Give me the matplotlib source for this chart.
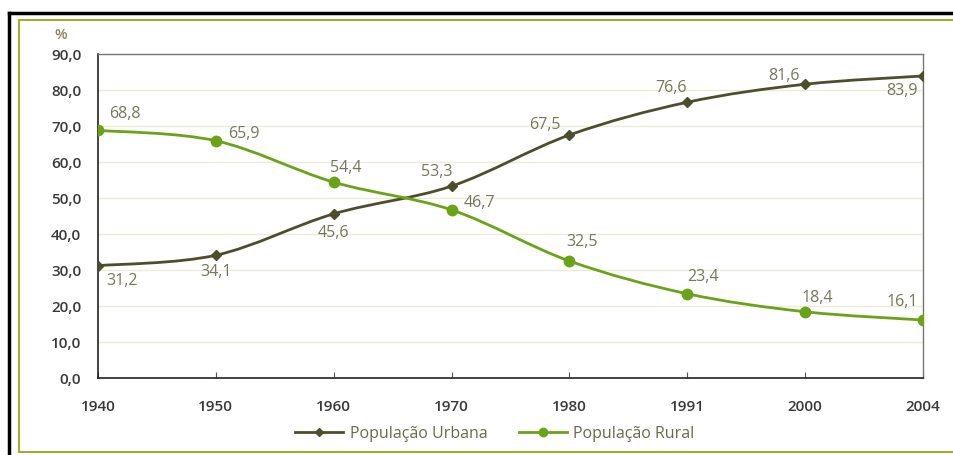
import numpy as np
import matplotlib
matplotlib.use('Agg')
from matplotlib import pyplot as plt
from matplotlib.path import Path
from matplotlib.patches import PathPatch
from matplotlib.lines import Line2D

years = ['1940', '1950', '1960', '1970', '1980', '1991', '2000', '2004']
urbana = [31.2, 34.1, 45.6, 53.3, 67.5, 76.6, 81.6, 83.9]
rural = [68.8, 65.9, 54.4, 46.7, 32.5, 23.4, 18.4, 16.1]

# label offsets in points (placement only)
off_urb = [(17, -11), (0, -12), (0, -14), (-11, 10), (-18, 7), (-12, 10), (-15, 6), (-15, -11)]
off_rur = [(19, 12), (20, 5), (9, 10), (20, 5), (9, 14), (11, 12), (9, 10), (-15, 13)]

c_urb = '#4e4e2c'
c_rur = '#6aa318'
c_lab = '#76765a'
c_txt = '#3a3a3a'

plt.rcParams['font.family'] = ['Open Sans', 'DejaVu Sans']

fig = plt.figure(figsize=(9.54, 4.55), dpi=100)
ax = fig.add_axes([98 / 954, 1 - 378 / 455, (923 - 98) / 954, (378 - 54) / 455])


def smooth(ax, x, y, color, lw):
    # excel-like smoothed line: catmull-rom -> bezier
    x = np.asarray(x, float)
    y = np.asarray(y, float)
    px = np.concatenate([[x[0]], x, [x[-1]]])
    py = np.concatenate([[y[0]], y, [y[-1]]])
    verts = [(x[0], y[0])]
    codes = [Path.MOVETO]
    for i in range(len(x) - 1):
        j = i + 1
        c1 = (px[j] + (px[j + 1] - px[j - 1]) / 6, py[j] + (py[j + 1] - py[j - 1]) / 6)
        c2 = (px[j + 1] - (px[j + 2] - px[j]) / 6, py[j + 1] - (py[j + 2] - py[j]) / 6)
        verts += [c1, c2, (x[j], y[j])]
        codes += [Path.CURVE4] * 3
    ax.add_patch(PathPatch(Path(verts, codes), fill=False, edgecolor=color, lw=lw, zorder=3))


xs = np.arange(len(years))
smooth(ax, xs, urbana, c_urb, 2.0)
smooth(ax, xs, rural, c_rur, 2.0)
ax.plot(xs, urbana, ls='none', marker='D', ms=5, color=c_urb, zorder=4)
ax.plot(xs, rural, ls='none', marker='o', ms=7.5, color=c_rur, zorder=4)

for i in range(len(xs)):
    ax.annotate(f'{urbana[i]:.1f}'.replace('.', ','), (xs[i], urbana[i]), xytext=off_urb[i],
                textcoords='offset points', ha='center', va='center', color=c_lab, fontsize=11.5, clip_on=False)
    ax.annotate(f'{rural[i]:.1f}'.replace('.', ','), (xs[i], rural[i]), xytext=off_rur[i],
                textcoords='offset points', ha='center', va='center', color=c_lab, fontsize=11.5, clip_on=False)

ax.set_xlim(0, len(years) - 1)
ax.set_ylim(0, 90)
ax.set_xticks(xs)
ax.set_xticklabels(years)
ax.set_yticks(np.arange(0, 91, 10))
ax.set_yticklabels([f'{v:.1f}'.replace('.', ',') for v in np.arange(0, 91, 10)])
ax.tick_params(axis='x', direction='in', length=4, color='#555555', pad=16,
               labelsize=11, labelcolor=c_txt)
ax.tick_params(axis='y', length=0, pad=12, labelsize=11, labelcolor=c_txt)
for lab in ax.get_xticklabels() + ax.get_yticklabels():
    lab.set_fontweight('semibold')
ax.grid(axis='y', color='#ebebd8', lw=1)
ax.set_axisbelow(True)
for s in ['left', 'bottom']:
    ax.spines[s].set_color('#222222')
    ax.spines[s].set_linewidth(1.2)
for s in ['top', 'right']:
    ax.spines[s].set_color('#777777')
    ax.spines[s].set_linewidth(1.0)

fig.text(61 / 954, 1 - 35 / 455, '%', color='#8a8a5a', fontsize=10.5, ha='center', va='center',
         fontweight='semibold')

handles = [Line2D([], [], color=c_urb, lw=2, marker='D', ms=4),
           Line2D([], [], color=c_rur, lw=2, marker='o', ms=6)]
fig.legend(handles, ['População Urbana', 'População Rural'], loc='center',
           bbox_to_anchor=(495 / 954, 1 - 434 / 455), ncol=2, frameon=False,
           fontsize=11.5, labelcolor='#6a6a4a', handlelength=3.0, columnspacing=2.0,
           handletextpad=0.4)

# outer frames (black top/left, olive inner)
W, H = 954, 455
fig.add_artist(Line2D([9.5 / W, 1.0], [1 - 12.5 / H] * 2, color='black', lw=2.5,
                      solid_capstyle='projecting'))
fig.add_artist(Line2D([9.5 / W] * 2, [0, 1 - 12.5 / H], color='black', lw=2.5,
                      solid_capstyle='projecting'))
fig.add_artist(Line2D([19.5 / W, 1.0], [1 - 20 / H] * 2, color='#a8a838', lw=1.5))
fig.add_artist(Line2D([19.5 / W, 1.0], [1 - 452 / H] * 2, color='#a8a838', lw=1.5))
fig.add_artist(Line2D([19.5 / W] * 2, [1 - 452 / H, 1 - 20 / H], color='#a8a838', lw=1.5))

fig.savefig('out.png', dpi=100, facecolor='white')
